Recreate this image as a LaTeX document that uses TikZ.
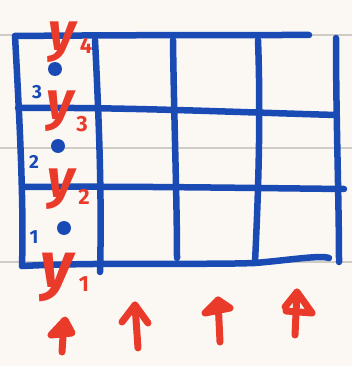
\documentclass[tikz,border=0pt]{standalone}
\usepackage{fontspec}
\setsansfont{Fira Sans}
\definecolor{paper}{HTML}{FBF8F4}
\definecolor{rule}{HTML}{CFCBC5}
\definecolor{ink}{HTML}{1A4BB4}
\definecolor{pen}{HTML}{EA3A2A}
\begin{document}
\begin{tikzpicture}[x=1pt,y=-1pt,
  gridline/.style={draw=ink,line width=6.5pt,line cap=round,line join=round},
  redline/.style={draw=pen,line width=7pt,line cap=round,line join=round},
  ylab/.style={text=pen,font=\sffamily\bfseries\itshape\fontsize{54}{54}\selectfont,inner sep=0pt},
  sublab/.style={text=pen,font=\sffamily\bfseries\fontsize{22}{22}\selectfont,inner sep=0pt},
  numlab/.style={text=ink,font=\sffamily\bfseries\fontsize{19}{19}\selectfont,inner sep=0pt},
  dot/.style={circle,fill=ink,minimum size=14pt,inner sep=0pt}]
\fill[paper] (0,0) rectangle (352,366);
\useasboundingbox (0,0) rectangle (352,366);
% notebook rules
\foreach \yy in {35,148,262} \draw[rule,line width=1.5pt] (0,\yy) -- (352,\yy);
% grid: horizontal
\draw[gridline] (15,36) .. controls (120,35) and (250,35) .. (309,35);
\draw[gridline] (18,108) .. controls (120,107) and (230,112) .. (336,115);
\draw[gridline] (22,187) .. controls (120,186) and (250,188) .. (344,189);
\draw[gridline] (22,266) .. controls (100,262) and (200,265) .. (255,263) .. controls (290,260) and (320,255) .. (329,258);
% grid: vertical
\draw[gridline] (15,36) .. controls (19,110) and (24,200) .. (22,266);
\draw[gridline] (95,40) .. controls (99,120) and (102,200) .. (100,272);
\draw[gridline] (173,40) .. controls (174,120) and (177,200) .. (177,258);
\draw[gridline] (258,40) .. controls (261,120) and (258,200) .. (255,262);
\draw[gridline] (336,38) .. controls (336,120) and (339,200) .. (339,262);
% dots and numbers
\node[dot] (d3) at (55,69) {};
\node[dot] (d2) at (58,146) {};
\node[dot] (d1) at (64,228) {};
\node[numlab] (n3) at (37,92) {3};
\node[numlab] (n2) at (34,162) {2};
\node[numlab] (n1) at (34,237) {1};
% y labels
\node[ylab] (y4) at (62,42) {y};
\node[sublab] (s4) at (86,46) {4};
\node[ylab] (y3) at (60,111) {y};
\node[sublab] (s3) at (82,124) {3};
\node[ylab] (y2) at (61,189) {y};
\node[sublab] (s2) at (84,197) {2};
\node[ylab,scale=1.2] (y1) at (57,277) {y};
\node[sublab] (s1) at (84,284) {1};
% arrows
\draw[redline] (62,352) -- (64,321);
\draw[redline] (51,335) -- (65,320) -- (72,333) -- cycle;
\draw[redline] (138,348) -- (135,305);
\draw[redline] (122,322) -- (135,305) -- (148,323);
\draw[redline] (220,342) -- (218,300);
\draw[redline] (205,313) -- (218,300) -- (230,308) -- cycle;
\draw[redline] (295,335) -- (297,292);
\draw[redline] (285,307) -- (297,292) -- (312,313) -- (286,311);
\end{tikzpicture}
\end{document}
